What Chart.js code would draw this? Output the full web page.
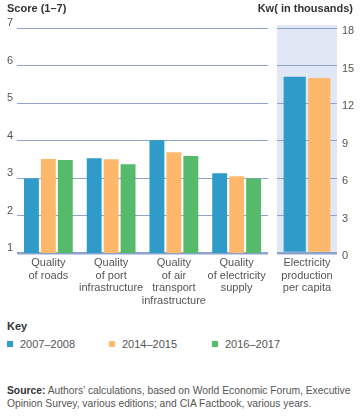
<!DOCTYPE html>
<html>
<head>
<meta charset="utf-8">
<script src="https://cdn.jsdelivr.net/npm/chart.js@4"></script>
<style>
  body { margin: 0; width: 364px; height: 416px; background: #fff; position: relative; overflow: hidden;
         font-family: "Liberation Sans", Arial, sans-serif; color: #555; }
  canvas { position: absolute; top: 0; }
  #left { left: 0; }
  #right { left: 268px; }
  .title { position: absolute; top: 2px; font-size: 11px; font-weight: bold; color: #333; }
  #key { position: absolute; left: 7px; top: 320px; font-size: 11px; font-weight: bold; color: #333; }
  .item { position: absolute; top: 338px; font-size: 11px; color: #555; }
  .item i { display: inline-block; width: 6px; height: 6px; margin-right: 7px; vertical-align: 1px; }
  #source { position: absolute; left: 7px; top: 384px; font-size: 10.3px; line-height: 13px; color: #555; white-space: nowrap; }
  #source b { color: #333; }
</style>
</head>
<body>
<canvas id="left" width="272" height="318"></canvas>
<canvas id="right" width="96" height="318"></canvas>
<div class="title" style="left:7px">Score (1–7)</div>
<div class="title" style="right:11px">Kw( in thousands)</div>
<div id="key">Key</div>
<div id="legend"></div>
<div id="source"><b>Source:</b> Authors’ calculations, based on World Economic Forum, Executive<br>Opinion Survey, various editions; and CIA Factbook, various years.</div>
<script>
// categories
const scoreCategories = [
  ['Quality', 'of roads'],
  ['Quality', 'of port', 'infrastructure'],
  ['Quality', 'of air', 'transport', 'infrastructure'],
  ['Quality', 'of electricity', 'supply']
];
const kwCategories = [['Electricity', 'production', 'per capita']];
const seriesNames = ['2007–2008', '2014–2015', '2016–2017'];
const seriesColors = ['#2E9BC9', '#FDB86C', '#55BB6A'];

// scores (1-7)
const score0708 = [2.99, 3.53, 4.01, 3.13];
const score1415 = [3.51, 3.50, 3.69, 3.05];
const score1617 = [3.48, 3.37, 3.59, 2.99];

// electricity production per capita, Kw (thousands)
const kw0708 = [14.1];
const kw1415 = [14.0];

const scoreTicks = [1, 2, 3, 4, 5, 6, 7];
const kwTicks = [0, 3, 6, 9, 12, 15, 18];

Chart.defaults.font.family = '"Liberation Sans", Arial, sans-serif';
Chart.defaults.font.size = 11;
Chart.defaults.color = '#555';

const gridColor = '#8DA3CC';

// legend
const legend = document.getElementById('legend');
const legendX = [7, 109, 212];
seriesNames.forEach((name, i) => {
  legend.insertAdjacentHTML('beforeend',
    `<div class="item" style="left:${legendX[i]}px"><i style="background:${seriesColors[i]}"></i>${name}</div>`);
});

// light panel behind the right chart
const panelBg = {
  id: 'panelBg',
  beforeDraw(chart) {
    const a = chart.chartArea;
    const ctx = chart.ctx;
    ctx.save();
    ctx.fillStyle = '#E1E7F4';
    ctx.fillRect(a.left, a.top - 3, a.right - a.left, a.bottom - a.top + 3);
    ctx.restore();
  }
};

function xAxis() {
  return {
    grid: { display: false, drawTicks: false },
    border: { display: false },
    ticks: { maxRotation: 0, autoSkip: false, padding: 4, color: '#555', font: { lineHeight: 1.13 } },
    afterFit: (scale) => { scale.height = 65; }
  };
}

new Chart(document.getElementById('left'), {
  type: 'bar',
  data: {
    labels: scoreCategories,
    datasets: [score0708, score1415, score1617].map((d, i) => ({
      label: seriesNames[i],
      data: d,
      backgroundColor: seriesColors[i],
      barPercentage: 0.88,
      categoryPercentage: 0.81
    }))
  },
  options: {
    responsive: false,
    animation: false,
    layout: { padding: { top: 28, right: 4, left: 0, bottom: 0 } },
    plugins: { legend: { display: false }, tooltip: { enabled: false } },
    scales: {
      x: xAxis(),
      y: {
        min: 1, max: 7,
        afterBuildTicks: (scale) => { scale.ticks = scoreTicks.map(v => ({ value: v })); },
        border: { display: false },
        grid: {
          color: gridColor,
          drawTicks: false,
          lineWidth: (c) => c.tick && c.tick.value === 1 ? 2.5 : 1
        },
        ticks: { padding: 4, labelOffset: -5, color: '#555' },
        afterFit: (scale) => { scale.width = 17; }
      }
    }
  }
});

new Chart(document.getElementById('right'), {
  type: 'bar',
  data: {
    labels: kwCategories,
    datasets: [kw0708, kw1415].map((d, i) => ({
      label: seriesNames[i],
      data: d,
      backgroundColor: seriesColors[i],
      barPercentage: 0.9,
      categoryPercentage: 0.82
    }))
  },
  options: {
    responsive: false,
    animation: false,
    layout: { padding: { top: 28, left: 9, right: 0, bottom: 0 } },
    plugins: { legend: { display: false }, tooltip: { enabled: false } },
    scales: {
      x: xAxis(),
      y: {
        position: 'right',
        min: 0, max: 18,
        afterBuildTicks: (scale) => { scale.ticks = kwTicks.map(v => ({ value: v })); },
        border: { display: false },
        grid: {
          color: gridColor,
          drawTicks: false,
          lineWidth: (c) => c.tick && c.tick.value === 0 ? 2.5 : 1
        },
        ticks: { padding: 5, labelOffset: 3, color: '#555' },
        afterFit: (scale) => { scale.width = 27; }
      }
    }
  },
  plugins: [panelBg]
});
</script>
</body>
</html>
